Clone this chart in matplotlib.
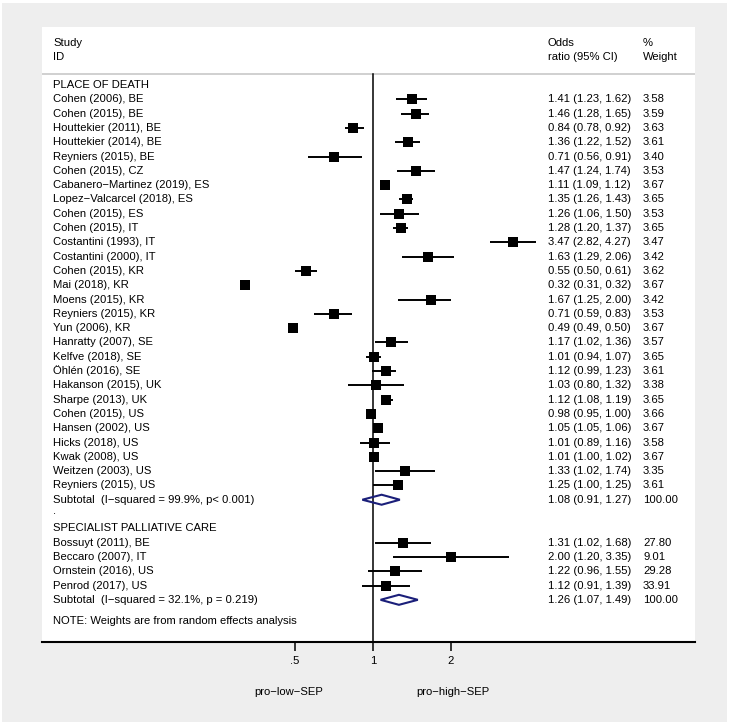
import matplotlib
matplotlib.use('Agg')
import matplotlib.pyplot as plt
from matplotlib import transforms
from matplotlib.patches import Polygon, Rectangle

plt.rcParams['font.family'] = ['Liberation Sans', 'DejaVu Sans']
plt.rcParams['font.size'] = 8.1

# place of death
death_ids = ['Cohen (2006), BE', 'Cohen (2015), BE', 'Houttekier (2011), BE',
             'Houttekier (2014), BE', 'Reyniers (2015), BE', 'Cohen (2015), CZ',
             'Cabanero\u2212Martinez (2019), ES', 'Lopez\u2212Valcarcel (2018), ES',
             'Cohen (2015), ES', 'Cohen (2015), IT', 'Costantini (1993), IT',
             'Costantini (2000), IT', 'Cohen (2015), KR', 'Mai (2018), KR',
             'Moens (2015), KR', 'Reyniers (2015), KR', 'Yun (2006), KR',
             'Hanratty (2007), SE', 'Kelfve (2018), SE', '\u00d6hl\u00e9n (2016), SE',
             'Hakanson (2015), UK', 'Sharpe (2013), UK', 'Cohen (2015), US',
             'Hansen (2002), US', 'Hicks (2018), US', 'Kwak (2008), US',
             'Weitzen (2003), US', 'Reyniers (2015), US']
death_or = [1.41, 1.46, 0.84, 1.36, 0.71, 1.47, 1.11, 1.35, 1.26, 1.28, 3.47,
            1.63, 0.55, 0.32, 1.67, 0.71, 0.49, 1.17, 1.01, 1.12, 1.03, 1.12,
            0.98, 1.05, 1.01, 1.01, 1.33, 1.25]
death_lo = [1.23, 1.28, 0.78, 1.22, 0.56, 1.24, 1.09, 1.26, 1.06, 1.20, 2.82,
            1.29, 0.50, 0.31, 1.25, 0.59, 0.49, 1.02, 0.94, 0.99, 0.80, 1.08,
            0.95, 1.05, 0.89, 1.00, 1.02, 1.00]
death_hi = [1.62, 1.65, 0.92, 1.52, 0.91, 1.74, 1.12, 1.43, 1.50, 1.37, 4.27,
            2.06, 0.61, 0.32, 2.00, 0.83, 0.50, 1.36, 1.07, 1.23, 1.32, 1.19,
            1.00, 1.06, 1.16, 1.02, 1.74, 1.25]
death_w = [3.58, 3.59, 3.63, 3.61, 3.40, 3.53, 3.67, 3.65, 3.53, 3.65, 3.47,
           3.42, 3.62, 3.67, 3.42, 3.53, 3.67, 3.57, 3.65, 3.61, 3.38, 3.65,
           3.66, 3.67, 3.58, 3.67, 3.35, 3.61]
death_sub = (1.08, 0.91, 1.27)
death_sub_label = 'Subtotal  (I\u2212squared = 99.9%, p< 0.001)'

# specialist palliative care
spc_ids = ['Bossuyt (2011), BE', 'Beccaro (2007), IT', 'Ornstein (2016), US',
           'Penrod (2017), US']
spc_or = [1.31, 2.00, 1.22, 1.12]
spc_lo = [1.02, 1.20, 0.96, 0.91]
spc_hi = [1.68, 3.35, 1.55, 1.39]
spc_w = [27.80, 9.01, 29.28, 33.91]
spc_sub = (1.26, 1.07, 1.49)
spc_sub_label = 'Subtotal  (I\u2212squared = 32.1%, p = 0.219)'

groups = [('PLACE OF DEATH', death_ids, death_or, death_lo, death_hi, death_w,
           death_sub, death_sub_label),
          ('SPECIALIST PALLIATIVE CARE', spc_ids, spc_or, spc_lo, spc_hi, spc_w,
           spc_sub, spc_sub_label)]

W, H = 730, 725
fig = plt.figure(figsize=(W / 100, H / 100), dpi=100)
fig.patch.set_facecolor('white')
fig.add_artist(Rectangle((2 / W, 3 / H), 725 / W, 719 / H, transform=fig.transFigure,
                         facecolor='#eeeeee', edgecolor='none', zorder=-10))

ax = fig.add_axes([42 / W, (H - 642) / H, 653 / W, 615 / H])
ax.set_facecolor('white')
ax.set_xscale('log', base=2)
ax.set_xlim(0.0528, 17.5)
ax.set_ylim(38.95, -4.06)

navy = '#1b1f7a'
x_id, x_or, x_w = 11 / 653, 506 / 653, 601 / 653
tr = transforms.blended_transform_factory(ax.transAxes, ax.transData)

# header
ax.text(x_id, -2.95, 'Study', transform=tr, va='center')
ax.text(x_id, -1.98, 'ID', transform=tr, va='center')
ax.text(x_or, -2.95, 'Odds', transform=tr, va='center')
ax.text(x_or, -1.98, 'ratio (95% CI)', transform=tr, va='center')
ax.text(x_w, -2.95, '%', transform=tr, va='center')
ax.text(x_w, -1.98, 'Weight', transform=tr, va='center')
ax.axhline(-0.77, color='#c4c4c4', lw=1.1)

row = 0
for gi, (title, ids, est, lo, hi, wt, sub, sub_label) in enumerate(groups):
    ax.text(x_id, row, title, transform=tr, va='center')
    row += 1
    for i in range(len(ids)):
        ax.text(x_id, row, ids[i], transform=tr, va='center')
        ax.plot([lo[i], hi[i]], [row, row], color='black', lw=1.4, solid_capstyle='butt')
        ax.plot(est[i], row, 's', ms=7, color='black', mew=0)
        ax.text(x_or, row, f'{est[i]:.2f} ({lo[i]:.2f}, {hi[i]:.2f})', transform=tr, va='center')
        ax.text(x_w, row, f'{wt[i]:.2f}', transform=tr, va='center')
        row += 1
    e, l, h = sub
    ax.add_patch(Polygon([(l, row), (e, row - 0.35), (h, row), (e, row + 0.35)],
                         closed=True, facecolor='none', edgecolor=navy, lw=1.5, zorder=3))
    ax.text(x_id, row, sub_label, transform=tr, va='center')
    ax.text(x_or, row, f'{e:.2f} ({l:.2f}, {h:.2f})', transform=tr, va='center')
    ax.text(x_w, row, '100.00', transform=tr, va='center')
    row += 1
    if gi == 0:
        ax.text(x_id, row - 0.2, '.', transform=tr, va='center')
        row += 1

ax.text(x_id, row + 0.5, 'NOTE: Weights are from random effects analysis',
        transform=tr, va='center')

# line of no effect
ax.plot([1, 1], [-0.77, 38.95], color='black', lw=1.1, zorder=2)

for s in ['top', 'left', 'right']:
    ax.spines[s].set_visible(False)
ax.spines['bottom'].set_linewidth(1.5)
ax.set_yticks([])
ax.set_xticks([0.5, 1, 2])
ax.set_xticklabels(['.5', '1', '2'])
ax.xaxis.set_minor_locator(matplotlib.ticker.NullLocator())
ax.tick_params(axis='x', length=6.5, width=1.1, pad=3.5, labelsize=8.1)

trb = transforms.blended_transform_factory(ax.transData, ax.transAxes)
ax.text(0.474, -50 / 615, 'pro\u2212low\u2212SEP', transform=trb, ha='center', va='center')
ax.text(2.04, -50 / 615, 'pro\u2212high\u2212SEP', transform=trb, ha='center', va='center')

fig.savefig('out.png', dpi=100)
